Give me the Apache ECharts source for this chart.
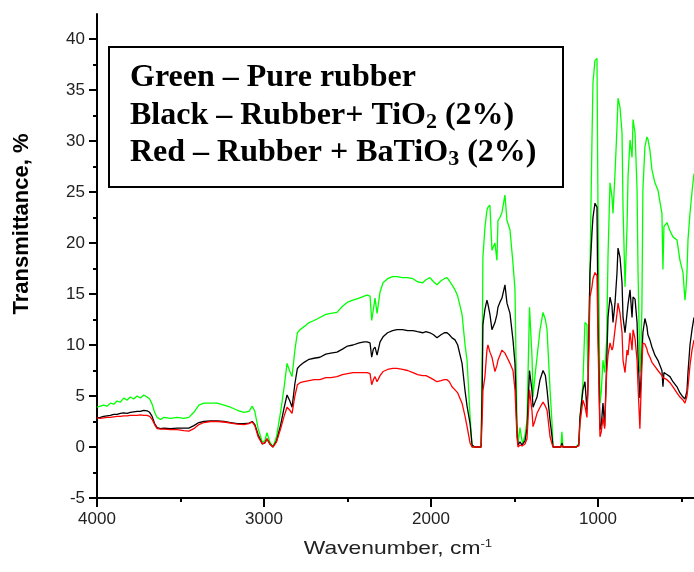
<!DOCTYPE html>
<html><head><meta charset="utf-8">
<script src="https://cdn.jsdelivr.net/npm/echarts@6/dist/echarts.min.js"></script>
<style>html,body{margin:0;padding:0;background:#fff}#c{width:694px;height:572px}</style>
</head><body><div id="c"></div>
<script>
// Wavenumber grid (cm-1)
const wavenumbers = [4000,3980,3960,3940,3920,3900,3880,3860,3840,3820,3800,3780,3760,3740,3720,3700,3685,3670,3655,3640,3620,3600,3560,3520,3480,3450,3420,3390,3360,3320,3280,3240,3200,3160,3120,3090,3070,3055,3035,3010,2995,2982,2965,2946,2925,2900,2880,2862,2845,2832,2815,2800,2784,2760,2730,2700,2665,2630,2600,2563,2530,2500,2467,2430,2400,2383,2365,2355,2345,2335,2323,2305,2287,2260,2230,2204,2170,2140,2108,2080,2050,2030,2006,1985,1964,1940,1920,1904,1890,1874,1856,1840,1814,1796,1784,1766,1754,1737,1719,1700,1693,1689,1677,1665,1659,1647,1635,1617,1605,1599,1587,1575,1557,1545,1527,1509,1497,1485,1479,1467,1455,1449,1437,1425,1410,1395,1389,1377,1365,1347,1329,1315,1305,1287,1275,1269,1240,1222,1216,1210,1170,1130,1115,1108,1090,1078,1066,1060,1048,1036,1030,1018,1006,1000,988,980,970,960,948,940,928,916,910,898,886,880,868,856,850,838,826,820,808,796,790,778,766,760,749,743,737,731,719,707,701,689,677,659,641,617,611,605,587,569,551,527,509,491,479,473,467,461,449,437,425];
const pureRubber = [3.9,4.0,4.1,4.0,4.3,4.2,4.5,4.4,4.8,4.6,4.9,4.7,5.0,4.8,5.1,4.9,4.7,4.2,3.4,2.9,2.7,2.9,2.8,2.9,2.8,2.9,3.4,4.1,4.3,4.3,4.3,4.1,3.9,3.6,3.4,3.5,4.0,3.5,1.8,0.5,0.6,1.4,0.5,0.0,1.0,3.5,5.8,8.2,7.4,6.9,9.5,11.2,11.5,11.8,12.2,12.4,12.7,13.0,13.1,13.2,13.8,14.2,14.4,14.6,14.8,14.9,14.8,12.4,13.5,14.6,13.1,15.2,16.1,16.5,16.7,16.7,16.6,16.6,16.5,16.2,16.1,16.4,16.6,16.2,15.9,16.3,16.5,16.6,16.3,15.9,15.4,14.8,13.0,10.0,8.5,3.0,0.0,0.0,0.0,0.0,10.0,18.6,21.5,23.2,23.5,23.7,19.3,20.0,18.3,22.2,22.5,23.0,24.7,22.2,21.3,18.0,15.4,2.3,0.4,1.9,0.6,0.4,1.2,2.6,13.7,8.8,4.9,7.0,8.8,11.5,13.2,12.5,11.5,5.6,2.3,0.0,0.0,0.0,1.5,0.0,0.0,0.0,0.3,2.6,6.3,12.2,12.0,7.3,17.1,30.1,35.7,37.9,38.1,23.5,4.3,5.5,8.5,7.3,10.5,18.6,25.9,24.5,22.9,26.8,31.4,34.2,33.3,30.8,23.5,15.7,21.6,26.5,30.1,28.4,32.1,30.8,25.2,17.1,7.3,9.0,13.7,25.2,29.4,30.4,30.2,29.1,27.2,25.9,25.2,22.9,17.4,21.6,22.0,21.2,20.6,20.3,18.3,17.1,14.4,15.5,17.1,20.3,22.9,25.0,26.8];
const rubberTiO2 = [2.85,2.9,3.0,3.05,3.1,3.2,3.2,3.3,3.35,3.3,3.4,3.45,3.5,3.5,3.6,3.55,3.4,3.0,2.3,1.9,1.8,1.85,1.8,1.85,1.85,1.85,2.1,2.4,2.5,2.55,2.55,2.5,2.4,2.3,2.3,2.35,2.5,2.2,1.2,0.3,0.4,0.8,0.3,0.0,0.6,2.2,3.8,5.1,4.5,3.9,6.2,7.7,8.0,8.3,8.6,8.7,8.8,9.1,9.2,9.3,9.6,9.9,10.0,10.2,10.3,10.3,10.2,8.8,9.6,9.8,9.0,10.3,10.8,11.2,11.4,11.5,11.5,11.4,11.4,11.3,11.2,11.3,11.2,11.0,10.7,11.0,11.2,11.2,11.0,10.7,10.5,10.0,8.2,5.5,4.0,2.3,0.2,0.0,0.0,0.0,6.0,12.0,13.5,14.4,14.0,13.0,11.5,12.2,13.0,13.7,14.2,14.6,15.9,14.1,13.1,10.5,8.2,1.4,0.2,0.5,0.2,0.2,0.6,1.8,7.5,5.5,3.9,4.4,4.9,6.6,7.5,7.0,5.6,2.6,1.0,0.0,0.0,0.0,0.4,0.0,0.0,0.0,0.2,2.9,5.6,6.4,3.6,6.0,17.1,21.0,22.5,23.9,23.5,12.5,1.7,2.2,4.3,2.0,8.2,12.7,14.7,13.8,12.2,14.1,17.1,19.5,18.6,16.1,12.7,11.2,13.1,14.0,15.4,12.7,14.7,14.5,12.2,8.8,4.8,6.5,9.0,11.2,12.6,11.8,11.0,10.5,9.8,9.0,8.5,7.5,5.9,7.3,7.1,6.9,6.4,5.9,5.3,4.9,4.7,4.6,5.5,7.3,10.0,11.5,12.7];
const rubberBaTiO3 = [2.85,2.8,2.85,2.9,2.9,2.95,3.0,3.0,3.05,3.05,3.1,3.1,3.1,3.15,3.1,3.1,3.0,2.7,2.2,1.8,1.75,1.75,1.7,1.7,1.6,1.55,1.8,2.2,2.4,2.5,2.5,2.45,2.35,2.25,2.2,2.3,2.45,2.1,1.0,0.3,0.4,0.8,0.3,0.0,0.5,1.8,3.0,3.9,3.6,3.3,5.0,6.1,6.3,6.4,6.5,6.6,6.6,6.8,6.8,6.9,7.1,7.2,7.3,7.3,7.3,7.3,7.2,6.1,6.6,6.9,6.4,7.0,7.4,7.6,7.7,7.7,7.6,7.5,7.3,7.1,7.0,7.0,6.8,6.6,6.4,6.5,6.6,6.6,6.4,5.9,5.6,5.3,4.3,3.0,2.0,0.4,0.0,0.0,0.0,0.0,3.0,5.5,6.9,9.5,10.0,9.3,8.8,7.4,8.0,8.5,9.0,9.5,9.2,8.8,8.2,7.5,5.6,1.0,0.0,0.2,0.1,0.0,0.3,0.8,5.6,3.5,2.0,2.6,3.3,3.9,4.4,4.0,3.6,1.0,0.3,0.0,0.0,0.0,0.2,0.0,0.0,0.0,0.1,2.3,4.6,4.0,2.9,5.6,14.7,15.7,16.5,17.1,16.8,10.5,1.0,1.5,2.9,1.8,7.3,9.0,10.2,9.5,9.8,11.5,13.1,14.1,13.1,11.2,8.5,7.3,9.5,9.0,11.2,9.5,11.5,10.6,8.5,5.9,1.8,5.0,8.0,10.2,10.1,9.6,9.2,8.8,8.3,7.9,7.5,7.0,6.8,6.8,6.6,6.3,5.9,5.3,4.9,4.6,4.3,4.4,5.0,5.9,8.0,9.5,10.5];

const xMajor = [4000,3000,2000,1000];
const xMinor = [3500,2500,1500,500];
const yMajor = [-5,0,5,10,15,20,25,30,35,40];
const yMinor = [-2.5,2.5,7.5,12.5,17.5,22.5,27.5,32.5,37.5];

const pair = ys => wavenumbers.map((w,i)=>[w, ys[i]]);
const chart = echarts.init(document.getElementById('c'), null, {renderer:'canvas'});
const axisFont = {fontFamily:'Liberation Sans, Arial, sans-serif', fontSize:17, color:'#222'};
const X0 = 425, X1 = 4000, Y0 = -5, Y1 = 42.45;
const serif = '"Liberation Serif", "Times New Roman", serif';
const subStyle = {fontSize:22, fontWeight:'bold', fontFamily:'Liberation Serif', padding:[13,0,0,0]};
chart.setOption({
  animation:false,
  backgroundColor:'#fff',
  grid:{left:97, right:0, top:14, bottom:74, containLabel:false},
  xAxis:[
    {type:'value', inverse:true, min:X0, max:X1, position:'bottom',
     axisLine:{show:true, onZero:false, lineStyle:{color:'#000', width:2}},
     axisTick:{show:true, length:9, lineStyle:{color:'#000', width:2}, customValues:xMajor},
     axisLabel:{...axisFont, margin:13, customValues:xMajor, formatter:v=>String(v)},
     splitLine:{show:false}},
    {type:'value', inverse:true, min:X0, max:X1, position:'bottom', gridIndex:0,
     axisLine:{show:false, onZero:false},
     axisTick:{show:true, length:4, lineStyle:{color:'#000', width:2}, customValues:xMinor},
     axisLabel:{show:false}, splitLine:{show:false}}
  ],
  yAxis:[
    {type:'value', min:Y0, max:Y1, position:'left',
     axisLine:{show:true, onZero:false, lineStyle:{color:'#000', width:2}},
     axisTick:{show:true, length:8, lineStyle:{color:'#000', width:2}, customValues:yMajor},
     axisLabel:{...axisFont, margin:12, customValues:yMajor, formatter:v=>String(v)},
     splitLine:{show:false}},
    {type:'value', min:Y0, max:Y1, position:'left',
     axisLine:{show:false, onZero:false},
     axisTick:{show:true, length:4, lineStyle:{color:'#000', width:2}, customValues:yMinor},
     axisLabel:{show:false}, splitLine:{show:false}}
  ],
  series:[
    {name:'Pure rubber', type:'line', data:pair(pureRubber), showSymbol:false, lineStyle:{color:'#00ff00', width:1.3}, itemStyle:{color:'#00ff00'}, z:2},
    {name:'Rubber + TiO2', type:'line', data:pair(rubberTiO2), showSymbol:false, lineStyle:{color:'#000000', width:1.3}, itemStyle:{color:'#000'}, z:3},
    {name:'Rubber + BaTiO3', type:'line', data:pair(rubberBaTiO3), showSymbol:false, lineStyle:{color:'#ff0000', width:1.3}, itemStyle:{color:'#f00'}, z:4}
  ],
  graphic:[
    {type:'text', x:22, y:224, rotation:Math.PI/2,
     style:{text:'Transmittance, %', font:'bold 22px "Liberation Sans", Arial, sans-serif', fill:'#000', align:'center', verticalAlign:'middle'}},
    {type:'text', x:398, y:549, scaleX:1.2,
     style:{text:'Wavenumber, cm{sup|-1}', font:'19px "Liberation Sans", Arial, sans-serif', fill:'#222', align:'center', verticalAlign:'middle',
       rich:{sup:{fontSize:11, fontFamily:'Liberation Sans', verticalAlign:'top', padding:[0,0,11,0]}}}},
    {type:'rect', shape:{x:109, y:47, width:454, height:140}, style:{fill:'#fff', stroke:'#000', lineWidth:2}, z:10},
    {type:'text', x:130, y:78, z:11,
     style:{text:'Green – Pure rubber', font:'bold 32px ' + serif, fill:'#000', verticalAlign:'middle'}},
    {type:'text', x:130, y:116, z:11,
     style:{text:'Black – Rubber+ TiO{sub|2} (2%)', font:'bold 32px ' + serif, fill:'#000', verticalAlign:'middle', rich:{sub:subStyle}}},
    {type:'text', x:130, y:153, z:11,
     style:{text:'Red – Rubber + BaTiO{sub|3} (2%)', font:'bold 32px ' + serif, fill:'#000', verticalAlign:'middle', rich:{sub:subStyle}}}
  ]
});
</script></body></html>
